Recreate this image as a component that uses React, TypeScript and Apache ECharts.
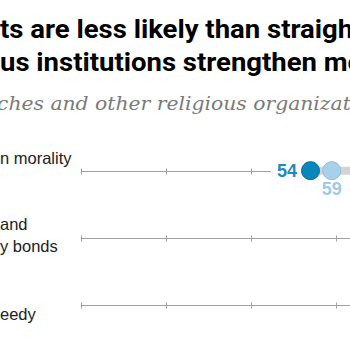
import React, { useEffect, useRef } from "react";
import * as echarts from "echarts";

const categories = ["Strengthen morality", "Strengthen family bonds", "Help the needy"];
const tickValues = [0, 20, 40, 60, 80, 100];
const lgbtValues = [54, 74, 80];
const subgroupValues = [59, 79, 85];
const straightValues = [72, 84, 88];

const titleLine1 = "ts are less likely than straigh";
const titleLine2 = "us institutions strengthen mo";
const subtitle = "ches and other religious organizatio";
const rowLabels: string[][] = [["n morality"], ["and", "y bonds"], ["eedy"]];

export default function App() {
  const ref = useRef<HTMLDivElement>(null);
  useEffect(() => {
    document.body.style.margin = "0";
    if (!ref.current) return;
    const chart = echarts.init(ref.current, null, { renderer: "svg" });
    const axisMin = tickValues[0];
    const axisMax = tickValues[tickValues.length - 1];

    const titleFont = "bold 25px Roboto";
    const graphics: any[] = [
      {
        type: "text", x: 0, y: 29.5, scaleX: 1.1,
        style: { text: titleLine1, x: 0, y: 0, textVerticalAlign: "middle", font: titleFont, fill: "#000" },
      },
      {
        type: "text", x: 0, y: 62.5, scaleX: 1.1,
        style: { text: titleLine2, x: 0, y: 0, textVerticalAlign: "middle", font: titleFont, fill: "#000" },
      },
      {
        type: "text", x: -3, y: 104, scaleX: 1.13,
        style: { text: subtitle, x: 0, y: 0, textVerticalAlign: "middle", font: "italic 18px 'DejaVu Serif'", fill: "#7a7a7a" },
      },
    ];
    const labelBaselines = [[164], [230, 252], [320]];
    rowLabels.forEach((lines, i) => {
      lines.forEach((t, j) => {
        graphics.push({
          type: "text",
          style: {
            text: t, x: 0, y: labelBaselines[i][j] - 5.6, textVerticalAlign: "middle",
            font: "16.5px 'Liberation Sans'", fill: "#222",
          },
        });
      });
    });

    chart.setOption({
      animation: false,
      grid: { left: 81, top: 137, height: 202, right: 14 },
      xAxis: { type: "value", min: axisMin, max: axisMax, interval: 20, show: false },
      yAxis: { type: "category", data: categories, inverse: true, show: false },
      graphic: graphics,
      series: [
        {
          type: "custom",
          z: 1,
          silent: true,
          data: categories.map((_, i) => [axisMin, i]),
          encode: { x: 0, y: 1 },
          renderItem: (params: any, api: any) => {
            const row = api.value(1);
            const p0 = api.coord([axisMin, row]);
            const p1 = api.coord([axisMax, row]);
            const yy = Math.round(p0[1]) + 0.5;
            const children: any[] = [
              { type: "line", shape: { x1: p0[0], y1: yy, x2: p1[0], y2: yy }, style: { stroke: "#a0a0a0", lineWidth: 1 } },
            ];
            tickValues.forEach((t) => {
              const tx = Math.round(api.coord([t, row])[0]) + 0.5;
              children.push({
                type: "line",
                shape: { x1: tx, y1: yy - 3, x2: tx, y2: yy + 3 },
                style: { stroke: "#a0a0a0", lineWidth: 1 },
              });
            });
            return { type: "group", children };
          },
        },
        {
          type: "custom",
          z: 2,
          silent: true,
          data: categories.map((_, i) => {
            const vals = [lgbtValues[i], subgroupValues[i], straightValues[i]];
            return [Math.min(...vals), Math.max(...vals), i];
          }),
          encode: { x: [0, 1], y: 2 },
          renderItem: (params: any, api: any) => {
            const row = api.value(2);
            const a = api.coord([api.value(0), row]);
            const b = api.coord([api.value(1), row]);
            return {
              type: "rect",
              shape: { x: a[0], y: a[1] - 4, width: b[0] - a[0], height: 8 },
              style: { fill: "#d4d4d4" },
            };
          },
        },
        {
          type: "scatter",
          name: "Straight",
          z: 3,
          symbolSize: 18,
          data: straightValues.map((v, i) => [v, i]),
          itemStyle: { color: "#bdbdbd", borderColor: "#a8a8a8", borderWidth: 1, opacity: 1 },
        },
        {
          type: "scatter",
          name: "Subgroup",
          z: 4,
          symbolSize: 18,
          data: subgroupValues.map((v, i) => [v, i]),
          itemStyle: { color: "#a8d0e8", borderColor: "#8ec0df", borderWidth: 1, opacity: 1 },
          label: {
            show: true,
            position: "bottom",
            distance: 0,
            formatter: (p: any) => String(p.value[0]),
            fontSize: 18,
            lineHeight: 18,
            fontWeight: "bold",
            fontFamily: "'Liberation Sans'",
            color: "#9ccbe8",
          },
        },
        {
          type: "scatter",
          name: "LGBT",
          z: 5,
          symbolSize: 18,
          data: lgbtValues.map((v, i) => [v, i]),
          itemStyle: { color: "#0a87ba", borderColor: "#086f9a", borderWidth: 1, opacity: 1 },
          label: {
            show: true,
            position: "left",
            distance: 0,
            padding: [0, 4, 0, 6],
            backgroundColor: "#fff",
            formatter: (p: any) => String(p.value[0]),
            fontSize: 18,
            lineHeight: 20,
            fontWeight: "bold",
            fontFamily: "'Liberation Sans'",
            color: "#1a8cc0",
          },
        },
      ],
    });
    return () => chart.dispose();
  }, []);
  return (
    <div style={{ width: 350, height: 347, overflow: "hidden" }}>
      <div ref={ref} style={{ width: 520, height: 347 }} />
    </div>
  );
}
